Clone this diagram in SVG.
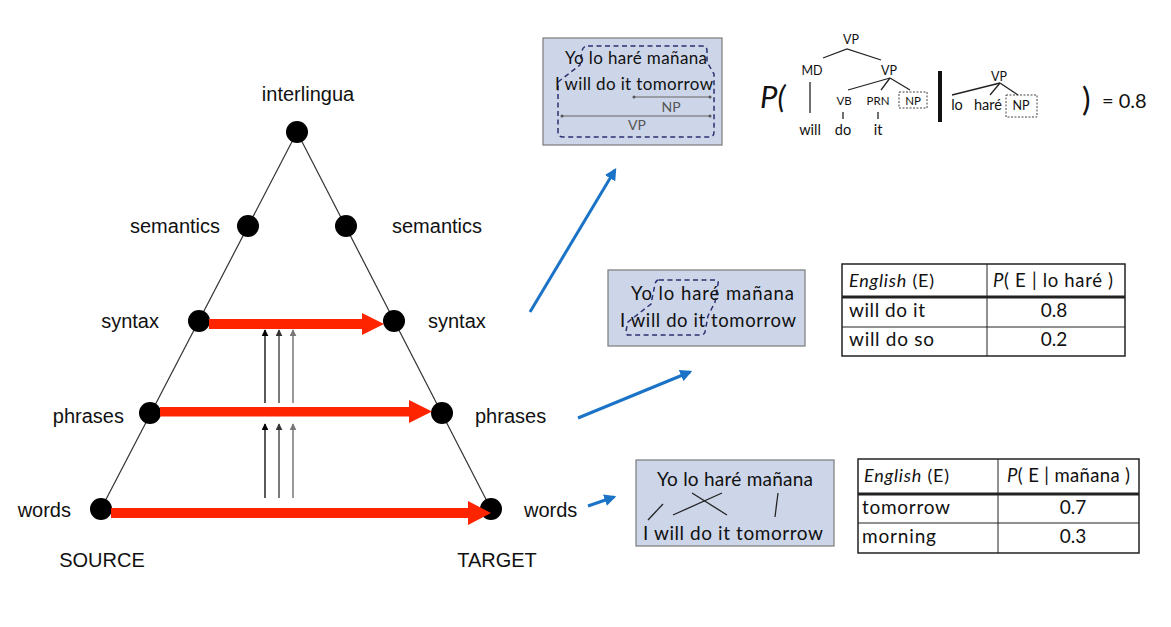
<svg xmlns="http://www.w3.org/2000/svg" width="1171" height="627" viewBox="0 0 1171 627">
<defs>
<style>
.lbl{font-family:"Liberation Sans",Arial,sans-serif;font-size:20px;fill:#111}
.gs{font-family:Lato,"Open Sans",sans-serif;fill:#111}
.box{fill:#cdd6e9;stroke:#7a7a7a;stroke-width:1.2}
.dash{fill:none;stroke:#2b3170;stroke-width:1.5;stroke-dasharray:5 3.5}
.node{fill:#000}
.tri{stroke:#333;stroke-width:1.2;fill:none}
.red{fill:#ff2400}
.blue{stroke:#1a73c6;stroke-width:3;fill:none;marker-end:url(#bh)}
.tree{stroke:#222;stroke-width:1.3;fill:none}
.dot{fill:none;stroke:#444;stroke-width:1;stroke-dasharray:2 1.5}
.tbl{fill:#fff;stroke:#222;stroke-width:1.5}
.tl{stroke:#222;stroke-width:1}
</style>
<marker id="bh" viewBox="0 0 10 10" refX="8" refY="5" markerWidth="4" markerHeight="4" orient="auto" markerUnits="strokeWidth"><path d="M0,0 L10,5 L0,10 z" fill="#1a73c6"/></marker>
<marker id="sa" viewBox="0 0 10 10" refX="9" refY="5" markerWidth="7" markerHeight="7" orient="auto" markerUnits="userSpaceOnUse"><path d="M0,0 L10,5 L0,10 z" fill="context-stroke"/></marker>
</defs>
<rect width="1171" height="627" fill="#fff"/>

<g id="triangle-edges">
<line class="tri" x1="297" y1="132" x2="101" y2="509"/>
<line class="tri" x1="297" y1="132" x2="491" y2="509"/>
</g>

<g id="node-interlingua"><circle class="node" cx="297" cy="132" r="11"/><text class="lbl" x="308" y="101" text-anchor="middle">interlingua</text></g>
<g id="node-semantics-src"><circle class="node" cx="248" cy="226" r="11"/><text class="lbl" x="220" y="233" text-anchor="end">semantics</text></g>
<g id="node-semantics-tgt"><circle class="node" cx="346" cy="226" r="11"/><text class="lbl" x="392" y="233">semantics</text></g>
<g id="node-syntax-src"><circle class="node" cx="199" cy="321" r="11"/><text class="lbl" x="159" y="328" text-anchor="end">syntax</text></g>
<g id="node-syntax-tgt"><circle class="node" cx="394" cy="321" r="11"/><text class="lbl" x="428" y="328">syntax</text></g>
<g id="node-phrases-src"><circle class="node" cx="150" cy="413" r="11"/><text class="lbl" x="124" y="423" text-anchor="end">phrases</text></g>
<g id="node-phrases-tgt"><circle class="node" cx="442" cy="413" r="11"/><text class="lbl" x="475" y="423">phrases</text></g>
<g id="node-words-src"><circle class="node" cx="101" cy="509" r="11"/><text class="lbl" x="71" y="517" text-anchor="end">words</text></g>
<g id="node-words-tgt"><circle class="node" cx="491" cy="509" r="11"/><text class="lbl" x="524" y="517">words</text></g>
<g id="label-source"><text class="lbl" x="102" y="567" text-anchor="middle">SOURCE</text></g>
<g id="label-target"><text class="lbl" x="497" y="567" text-anchor="middle">TARGET</text></g>

<g id="connectors">
<rect class="red" x="209" y="319" width="156" height="10"/>
<polygon class="red" points="362,313 384,324 362,335"/>
<rect class="red" x="160" y="407" width="252" height="9.5"/>
<polygon class="red" points="409,400 432,411.5 409,423"/>
<rect class="red" x="111" y="508" width="360" height="10"/>
<polygon class="red" points="468,501 491,513 468,525"/>

<line x1="265" y1="403" x2="265" y2="330" stroke="#000" stroke-width="1.3" marker-end="url(#sa)"/>
<line x1="279" y1="403" x2="279" y2="330" stroke="#333" stroke-width="1.3" marker-end="url(#sa)"/>
<line x1="293" y1="403" x2="293" y2="330" stroke="#777" stroke-width="1.5" marker-end="url(#sa)"/>
<line x1="265" y1="498" x2="265" y2="424" stroke="#000" stroke-width="1.3" marker-end="url(#sa)"/>
<line x1="279" y1="498" x2="279" y2="424" stroke="#333" stroke-width="1.3" marker-end="url(#sa)"/>
<line x1="293" y1="498" x2="293" y2="424" stroke="#777" stroke-width="1.5" marker-end="url(#sa)"/>

<line class="blue" x1="530" y1="312" x2="615" y2="170"/>
<line class="blue" x1="578" y1="418" x2="690" y2="372"/>
<line class="blue" x1="588" y1="506" x2="614" y2="497"/>
</g>

<g id="box-syntax">
<rect class="box" x="543" y="38" width="179" height="107"/>
<path class="dash" d="M588,46 H702 Q707,46 707,51 V62 L714,74 V132 Q714,137 709,137 H563 Q558,137 558,132 V82 L580,65 L582,51 Q583,46 588,46 Z"/>
<text class="gs" x="565" y="64" font-size="17" textLength="142">Yo lo haré mañana</text>
<text class="gs" x="555" y="90" font-size="17" textLength="158">I will do it tomorrow</text>
<line x1="634" y1="97" x2="710" y2="97" stroke="#666" stroke-width="1"/>
<circle cx="634" cy="97" r="1.5" fill="#555"/><circle cx="710" cy="97" r="1.5" fill="#555"/>
<text class="gs" x="671" y="112" font-size="14" text-anchor="middle" style="fill:#555">NP</text>
<line x1="562" y1="116" x2="710" y2="116" stroke="#666" stroke-width="1"/>
<circle cx="562" cy="116" r="1.5" fill="#555"/><circle cx="710" cy="116" r="1.5" fill="#555"/>
<text class="gs" x="637" y="130" font-size="14" text-anchor="middle" style="fill:#555">VP</text>
</g>

<g id="tree-probability">
<text class="gs" x="760" y="108" font-size="31" font-style="italic">P(</text>
<text class="gs" x="851" y="44" font-size="12.5" text-anchor="middle">VP</text>
<polyline class="tree" points="823,58 847,49 881,60"/>
<text class="gs" x="812" y="75" font-size="12.5" text-anchor="middle">MD</text>
<text class="gs" x="889" y="75" font-size="12.5" text-anchor="middle">VP</text>
<line class="tree" x1="810" y1="82" x2="810" y2="113"/>
<line class="tree" x1="890" y1="78" x2="848" y2="90"/>
<line class="tree" x1="890" y1="78" x2="881" y2="90"/>
<line class="tree" x1="890" y1="78" x2="910" y2="90"/>
<text class="gs" x="844" y="105" font-size="11.5" text-anchor="middle">VB</text>
<text class="gs" x="878" y="105" font-size="11.5" text-anchor="middle">PRN</text>
<rect class="dot" x="899" y="92" width="28" height="16"/>
<text class="gs" x="913" y="105" font-size="11.5" text-anchor="middle">NP</text>
<line class="tree" x1="843" y1="112" x2="843" y2="119"/>
<line class="tree" x1="878" y1="112" x2="878" y2="119"/>
<text class="gs" x="810" y="135" font-size="14.5" text-anchor="middle">will</text>
<text class="gs" x="843" y="135" font-size="14.5" text-anchor="middle">do</text>
<text class="gs" x="878" y="135" font-size="14.5" text-anchor="middle">it</text>
<line x1="940" y1="71" x2="940" y2="122" stroke="#111" stroke-width="4"/>
<text class="gs" x="999" y="81" font-size="12.5" text-anchor="middle">VP</text>
<line class="tree" x1="1000" y1="83" x2="952" y2="95"/>
<line class="tree" x1="1000" y1="83" x2="990" y2="95"/>
<line class="tree" x1="1000" y1="83" x2="1018" y2="95"/>
<text class="gs" x="957" y="110" font-size="14.5" text-anchor="middle">lo</text>
<text class="gs" x="988" y="110" font-size="14.5" text-anchor="middle">haré</text>
<rect class="dot" x="1006" y="95" width="31" height="22"/>
<text class="gs" x="1021" y="110" font-size="12.5" text-anchor="middle">NP</text>
<text class="gs" x="1082" y="111" font-size="32">)</text>
<text class="gs" x="1102" y="108" font-size="20">= 0.8</text>
</g>

<g id="box-phrases">
<rect class="box" x="608" y="270" width="197" height="76"/>
<path class="dash" d="M659,280 H716 Q719,280 718,284 L715,302 L708,316 L705,332 Q704,335 700,335 H629 Q625,335 626,331 L628,322 L651,304 L655,284 Q656,280 659,280 Z"/>
<text class="gs" x="631" y="300" font-size="18.5" textLength="163">Yo lo haré mañana</text>
<text class="gs" x="620" y="327" font-size="18.5" textLength="176">I will do it tomorrow</text>
</g>

<g id="table-phrases">
<rect class="tbl" x="842" y="264" width="283" height="92"/>
<line x1="842" y1="297" x2="1125" y2="297" stroke="#222" stroke-width="3"/>
<line class="tl" x1="842" y1="327" x2="1125" y2="327"/>
<line class="tl" x1="987" y1="264" x2="987" y2="356"/>
<text class="gs" x="849" y="287" font-size="18" textLength="85"><tspan font-style="italic">English</tspan> (E)</text>
<text class="gs" x="993" y="287" font-size="18.5" textLength="120"><tspan font-style="italic">P</tspan>( E | lo haré )</text>
<text class="gs" x="849" y="317" font-size="19" textLength="76">will do it</text>
<text class="gs" x="1054" y="317" font-size="19" text-anchor="middle">0.8</text>
<text class="gs" x="849" y="346" font-size="19" textLength="85">will do so</text>
<text class="gs" x="1054" y="346" font-size="19" text-anchor="middle">0.2</text>
</g>

<g id="box-words">
<rect class="box" x="636" y="460" width="198" height="86"/>
<text class="gs" x="657" y="486" font-size="19" textLength="156">Yo lo haré mañana</text>
<text class="gs" x="643" y="540" font-size="19" textLength="180">I will do it tomorrow</text>
<line class="tree" x1="648" y1="520" x2="663" y2="504"/>
<line class="tree" x1="673" y1="515" x2="722" y2="493"/>
<line class="tree" x1="692" y1="493" x2="727" y2="515"/>
<line class="tree" x1="778" y1="493" x2="775" y2="517"/>
</g>

<g id="table-words">
<rect class="tbl" x="858" y="459" width="281" height="94"/>
<line x1="858" y1="494" x2="1139" y2="494" stroke="#222" stroke-width="3"/>
<line class="tl" x1="858" y1="523" x2="1139" y2="523"/>
<line class="tl" x1="998" y1="459" x2="998" y2="553"/>
<text class="gs" x="864" y="482" font-size="18" textLength="85"><tspan font-style="italic">English</tspan> (E)</text>
<text class="gs" x="1007" y="482" font-size="18.5" textLength="123"><tspan font-style="italic">P</tspan>( E | mañana )</text>
<text class="gs" x="862" y="514" font-size="19" textLength="88">tomorrow</text>
<text class="gs" x="1073" y="514" font-size="19" text-anchor="middle">0.7</text>
<text class="gs" x="862" y="543" font-size="19" textLength="74">morning</text>
<text class="gs" x="1073" y="543" font-size="19" text-anchor="middle">0.3</text>
</g>
</svg>
